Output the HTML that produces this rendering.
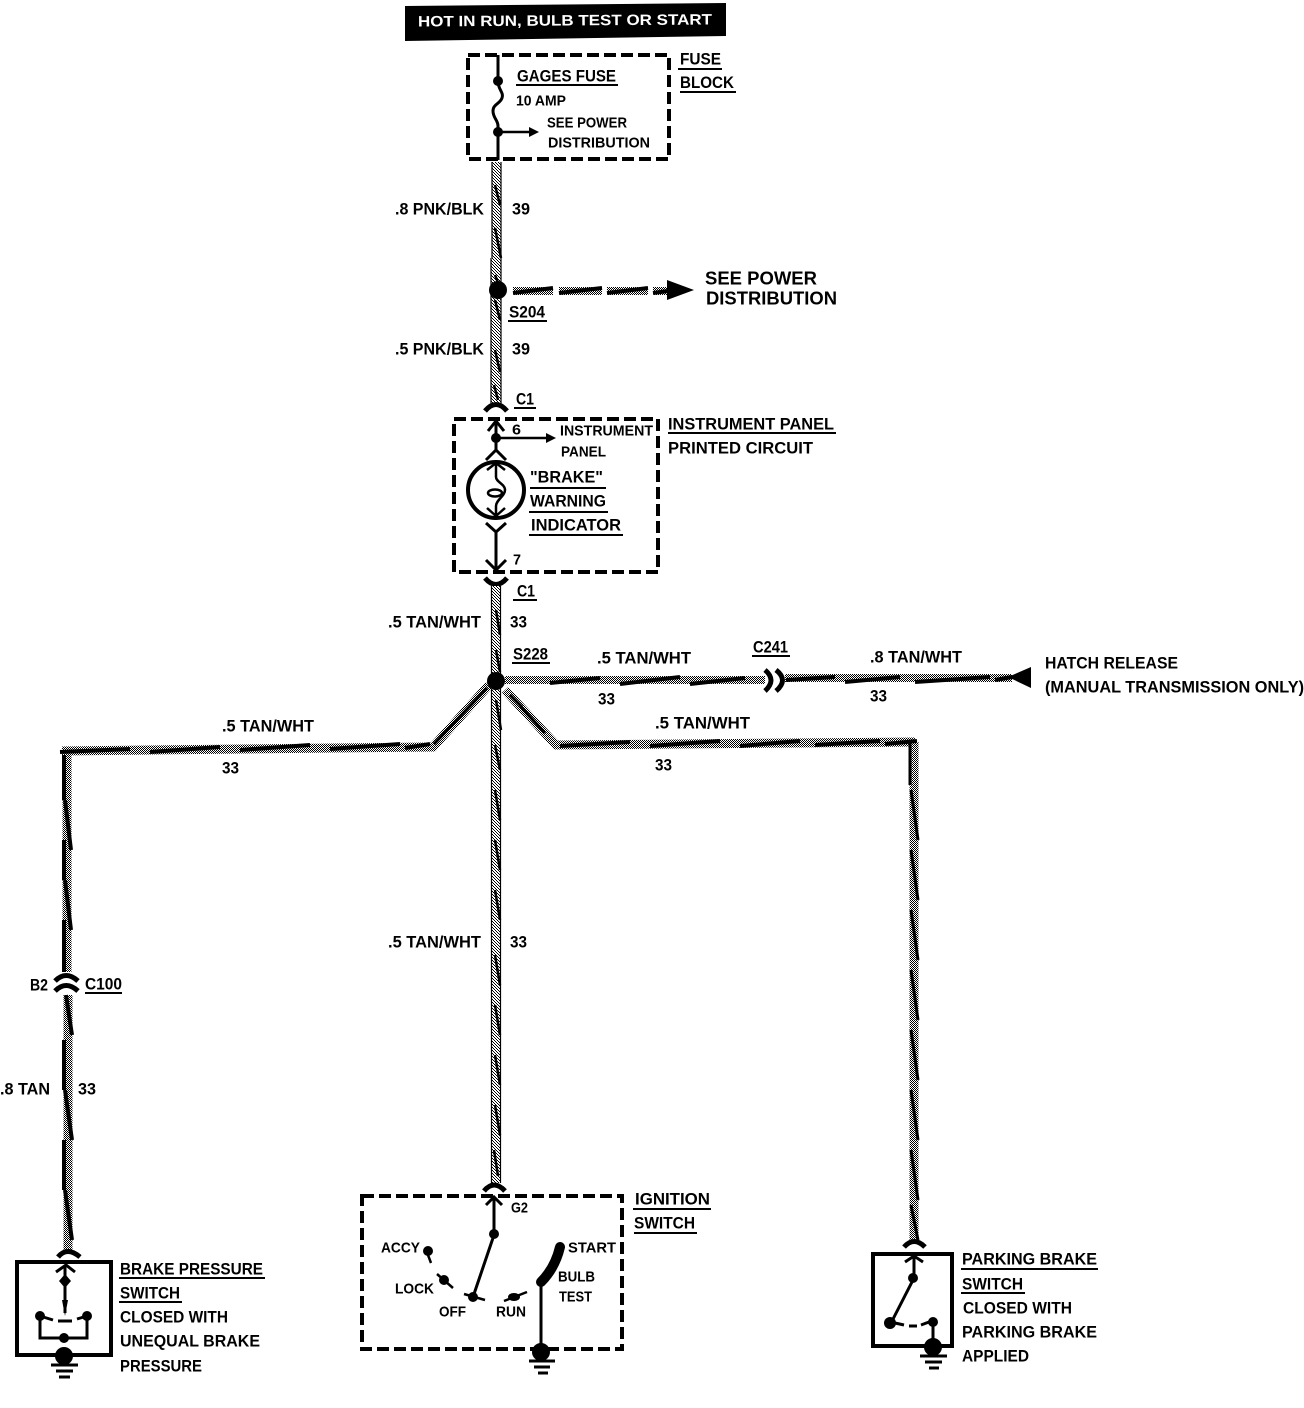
<!DOCTYPE html>
<html><head><meta charset="utf-8"><style>
html,body{margin:0;padding:0;background:#fff}
svg{display:block}
text{font-family:"Liberation Sans",sans-serif;font-weight:bold;fill:#000;font-size:17px}
text:not(.n){transform:translateY(-0.5px)}
.s{font-size:15px}
.u{stroke:#000;stroke-width:2;fill:none}
.l{stroke:#000;stroke-width:2.5;fill:none}
.d{fill:none;stroke:#000;stroke-width:4;stroke-dasharray:12 5}
.w{fill:none;stroke:url(#st);stroke-width:9}
.c{fill:none;stroke:url(#st2);stroke-width:9}
.b{fill:none;stroke:#000;stroke-width:2.5}
.h{fill:none;stroke:#000;stroke-width:4}
.a{fill:none;stroke:#000;stroke-width:5}
</style></head><body>
<svg width="1304" height="1408" viewBox="0 0 1304 1408" xmlns="http://www.w3.org/2000/svg">
<defs>
<pattern id="st" width="2" height="2" patternUnits="userSpaceOnUse"><rect width="2" height="2" fill="#fff"/><rect width="1" height="1" fill="#000"/><rect x="1" y="1" width="1" height="1" fill="#000"/></pattern>
<pattern id="st2" width="3" height="3" patternUnits="userSpaceOnUse"><rect width="3" height="3" fill="#fff"/><rect width="1" height="1" fill="#000"/><rect x="1" y="1" width="1" height="1" fill="#000"/><rect x="2" y="2" width="1" height="1" fill="#000"/></pattern>
</defs>
<rect width="1304" height="1408" fill="#fff"/>

<!-- header -->
<polygon points="405,6 726,3 726,36 405,41" fill="#000"/>
<text class="n" x="418" y="26.5" textLength="294" lengthAdjust="spacingAndGlyphs" style="fill:#fff;font-size:15px" transform="rotate(-0.4 418 27)">HOT IN RUN, BULB TEST OR START</text>

<!-- fuse block -->
<rect class="d" x="468" y="55" width="201" height="104"/>
<path class="l" d="M498,55V81C498,90 504,92 502,98C500,104 493,104 493,111C493,118 498,120 498,126V160" style="stroke-width:3"/>
<circle cx="498" cy="81" r="5"/><circle cx="498" cy="132" r="5"/>
<path class="l" d="M498,132H530"/><polygon points="529,127 539,132 529,137"/>
<text x="517" y="82" textLength="99" lengthAdjust="spacingAndGlyphs">GAGES FUSE</text><path class="u" d="M516,85H618"/>
<text class="s" x="516" y="106" textLength="50" lengthAdjust="spacingAndGlyphs">10 AMP</text>
<text class="s" x="547" y="128" textLength="80" lengthAdjust="spacingAndGlyphs">SEE POWER</text>
<text class="s" x="548" y="148" textLength="102" lengthAdjust="spacingAndGlyphs">DISTRIBUTION</text>
<text x="680" y="65" textLength="41" lengthAdjust="spacingAndGlyphs">FUSE</text><path class="u" d="M678,69H722"/>
<text x="680" y="88.5" textLength="54" lengthAdjust="spacingAndGlyphs">BLOCK</text><path class="u" d="M680,92H736"/>

<!-- top wire -->
<path class="c" d="M496,162V404"/>
<path class="b" d="M491,258V404M501,162V404" style="stroke-width:1.2"/>
<path class="b" d="M492,162V258" style="stroke-width:1.2"/>
<path class="b" d="M495,185L500,205M495,228L501,258M495,275L499,285M495,300L500,320M495,350L500,372M494,385L498,400"/>
<text x="395" y="215" textLength="89" lengthAdjust="spacingAndGlyphs">.8 PNK/BLK</text>
<text x="512" y="215" textLength="18" lengthAdjust="spacingAndGlyphs">39</text>
<circle cx="498" cy="290" r="9"/>
<path d="M513,291H553M559,291H602M607,291H648M653,291H668" fill="none" stroke="url(#st)" stroke-width="8"/>
<path class="h" d="M513,293L553,288M559,293L602,288M607,293L648,288M653,293L668,291"/>
<polygon points="667,280 694,290 667,300"/>
<text x="705" y="285" textLength="112" lengthAdjust="spacingAndGlyphs" style="font-size:18px">SEE POWER</text>
<text x="706" y="305" textLength="131" lengthAdjust="spacingAndGlyphs" style="font-size:18px">DISTRIBUTION</text>
<text x="509" y="318" textLength="36" lengthAdjust="spacingAndGlyphs">S204</text><path class="u" d="M508,321H547"/>
<text x="395" y="355" textLength="89" lengthAdjust="spacingAndGlyphs">.5 PNK/BLK</text>
<text x="512" y="355" textLength="18" lengthAdjust="spacingAndGlyphs">39</text>

<!-- C1 upper -->
<path class="a" d="M485,411Q496,398 507,411"/>
<text x="516" y="405" textLength="18" lengthAdjust="spacingAndGlyphs">C1</text><path class="u" d="M514,408H536"/>

<!-- instrument panel -->
<rect class="d" x="454" y="419" width="204" height="153"/>
<path class="l" d="M488,431L496,421L504,431M496,421V450M486,460L496,450L506,460" style="stroke-width:3"/>
<circle cx="496" cy="438" r="5"/>
<path class="l" d="M496,438H548"/><polygon points="546,433 556,438 546,443"/>
<text class="s" x="512" y="435" textLength="9" lengthAdjust="spacingAndGlyphs">6</text>
<text class="s" x="560" y="436" textLength="93" lengthAdjust="spacingAndGlyphs">INSTRUMENT</text>
<text class="s" x="561" y="457" textLength="45" lengthAdjust="spacingAndGlyphs">PANEL</text>
<circle cx="496" cy="490" r="28" fill="none" stroke="#000" stroke-width="4"/>
<path class="l" d="M487,470L496,463L505,470M496,463V477C496,482 505,484 505,490C505,496 496,500 496,506V516M487,508L496,516L505,508"/>
<ellipse cx="495" cy="493" rx="7" ry="3.5" fill="none" stroke="#000" stroke-width="2.5"/>
<path class="l" d="M486,523L496,532L506,523M496,532V570M486,560L496,570L506,560" style="stroke-width:3"/>
<text class="s" x="513" y="565" textLength="8" lengthAdjust="spacingAndGlyphs">7</text>
<text x="530" y="483" textLength="73" lengthAdjust="spacingAndGlyphs">"BRAKE"</text><path class="u" d="M530,488H606"/>
<text x="530" y="507" textLength="76" lengthAdjust="spacingAndGlyphs">WARNING</text><path class="u" d="M529,512H608"/>
<text x="531" y="531" textLength="90" lengthAdjust="spacingAndGlyphs">INDICATOR</text><path class="u" d="M529,535H623"/>
<text x="668" y="430" textLength="166" lengthAdjust="spacingAndGlyphs">INSTRUMENT PANEL</text><path class="u" d="M668,433H836"/>
<text x="668" y="454" textLength="145" lengthAdjust="spacingAndGlyphs">PRINTED CIRCUIT</text>

<!-- C1 lower -->
<path class="a" d="M485,578Q496,591 507,578"/>
<text x="517" y="597" textLength="18" lengthAdjust="spacingAndGlyphs">C1</text><path class="u" d="M513,600H537"/>

<!-- middle wire -->
<path class="c" d="M496,586V1183"/>
<path class="b" d="M491.5,586V1183M500.5,586V1183" style="stroke-width:1.2"/>
<path class="b" d="M496,610L500,635M496,650L500,672M496,700L501,730M495,745L500,770M495,790L500,820M495,840L500,870M495,890L500,920M495,955L500,985M495,1005L500,1035M495,1055L500,1085M495,1105L500,1135M494,1150L498,1176"/>
<text x="388" y="628" textLength="93" lengthAdjust="spacingAndGlyphs">.5 TAN/WHT</text>
<text x="510" y="628" textLength="17" lengthAdjust="spacingAndGlyphs">33</text>
<text x="513" y="660" textLength="35" lengthAdjust="spacingAndGlyphs">S228</text><path class="u" d="M512,663H550"/>
<text x="388" y="948" textLength="93" lengthAdjust="spacingAndGlyphs">.5 TAN/WHT</text>
<text x="510" y="948" textLength="17" lengthAdjust="spacingAndGlyphs">33</text>

<!-- right hatch wire -->
<path class="w" d="M505,680L765,680M785,678H1012" style="stroke-width:8"/>
<path class="h" d="M550,683L600,678M620,684L680,677M690,684L745,678M786,680L835,677M845,682L900,677M915,682L990,677M995,680L1012,677"/>
<path class="a" d="M765,670Q777,680 765,691M776,670Q789,680 776,691"/>
<polygon points="1031,667 1008,677 1031,688"/>
<text x="597" y="664" textLength="94" lengthAdjust="spacingAndGlyphs">.5 TAN/WHT</text>
<text x="598" y="705" textLength="17" lengthAdjust="spacingAndGlyphs">33</text>
<text x="753" y="653" textLength="35" lengthAdjust="spacingAndGlyphs">C241</text><path class="u" d="M752,656H790"/>
<text x="870" y="663" textLength="92" lengthAdjust="spacingAndGlyphs">.8 TAN/WHT</text>
<text x="870" y="702" textLength="17" lengthAdjust="spacingAndGlyphs">33</text>
<text x="1045" y="669" textLength="133" lengthAdjust="spacingAndGlyphs">HATCH RELEASE</text>
<text x="1045" y="693" textLength="259" lengthAdjust="spacingAndGlyphs">(MANUAL TRANSMISSION ONLY)</text>

<!-- left wire -->
<path class="w" d="M489,685L433,747L62,751"/>
<path class="w" d="M67,752V972M68,995V1252"/>
<path class="h" d="M434,744L487,688" style="stroke-width:3"/>
<path class="h" d="M60,752L130,749M150,752L220,747M240,750L310,745M330,749L400,744M405,748L430,744"/>
<path class="b" d="M64,755V800M65,800L71,850M64,840V880M65,880L71,930M64,920V972M66,995L72,1035M64,1040V1090M65,1090L72,1140M64,1140V1190M65,1190L72,1240" style="stroke-width:4"/>
<path class="a" d="M55,981Q66,970 78,981M55,991Q66,980 78,991"/>
<text x="222" y="732" textLength="92" lengthAdjust="spacingAndGlyphs">.5 TAN/WHT</text>
<text x="222" y="774" textLength="17" lengthAdjust="spacingAndGlyphs">33</text>
<text x="30" y="991" textLength="18" lengthAdjust="spacingAndGlyphs">B2</text>
<text x="85" y="990" textLength="37" lengthAdjust="spacingAndGlyphs">C100</text><path class="u" d="M85,993H122"/>
<text x="0" y="1095" textLength="50" lengthAdjust="spacingAndGlyphs">.8 TAN</text>
<text x="78" y="1095" textLength="18" lengthAdjust="spacingAndGlyphs">33</text>

<!-- right wire -->
<path class="w" d="M505,690L556,745L915,742"/>
<path class="w" d="M914,742V1243"/>
<path class="h" d="M520,706L545,733M510,695L522,707" style="stroke-width:3"/>
<path class="h" d="M560,746L630,742M650,746L720,741M740,746L800,741M815,745L880,741M885,744L917,741"/>
<path class="b" d="M910,742V785M911,790L918,840M911,850L918,900M911,910L918,960M911,970L918,1020M911,1030L918,1080M911,1090L918,1140M911,1150L918,1200M911,1205L918,1240" style="stroke-width:3"/>
<text x="655" y="729" textLength="95" lengthAdjust="spacingAndGlyphs">.5 TAN/WHT</text>
<text x="655" y="771" textLength="17" lengthAdjust="spacingAndGlyphs">33</text>

<!-- splice -->
<circle cx="496" cy="681" r="9"/>

<!-- brake pressure switch -->
<path class="a" d="M58,1257Q67,1246 80,1257"/>
<rect x="17" y="1262" width="94" height="93" fill="none" stroke="#000" stroke-width="4"/>
<path class="l" d="M56,1272L66,1265L75,1272M65,1265V1313" style="stroke-width:3"/>
<polygon points="65,1274 71,1281 65,1288 59,1281"/>
<polygon points="62,1300 68,1300 65,1316"/>
<circle cx="40" cy="1316" r="5"/><circle cx="87" cy="1316" r="5"/>
<path class="l" d="M40,1316V1338H87V1316M40,1316L53,1320M87,1316L77,1319M58,1321H72" style="stroke-width:3"/>
<circle cx="64" cy="1338" r="5"/>
<circle cx="64" cy="1356" r="9"/>
<path class="l" d="M51,1365H78M56,1371H73M59,1377H70" style="stroke-width:3"/>
<text x="120" y="1275" textLength="143" lengthAdjust="spacingAndGlyphs">BRAKE PRESSURE</text><path class="u" d="M119,1278H265"/>
<text x="120" y="1299" textLength="60" lengthAdjust="spacingAndGlyphs">SWITCH</text><path class="u" d="M119,1302H182"/>
<text x="120" y="1323" textLength="108" lengthAdjust="spacingAndGlyphs">CLOSED WITH</text>
<text x="120" y="1347" textLength="140" lengthAdjust="spacingAndGlyphs">UNEQUAL BRAKE</text>
<text x="120" y="1372" textLength="82" lengthAdjust="spacingAndGlyphs">PRESSURE</text>

<!-- ignition switch -->
<path class="a" d="M484,1191Q494,1179 505,1191"/>
<rect class="d" x="362" y="1196" width="260" height="153"/>
<path class="l" d="M486,1205L494,1197L502,1205M494,1197V1235L473,1297" style="stroke-width:3"/>
<circle cx="494" cy="1234" r="5"/><circle cx="473" cy="1297" r="5"/>
<path class="l" d="M464,1294L485,1300"/>
<text class="s" x="511" y="1213" textLength="17" lengthAdjust="spacingAndGlyphs">G2</text>
<circle cx="428" cy="1251" r="5"/><path class="l" d="M428,1255L431,1263"/>
<circle cx="444" cy="1280" r="5"/><path class="l" d="M437,1274L453,1288"/>
<ellipse cx="514" cy="1297" rx="6" ry="4"/><path class="l" d="M504,1301L527,1292"/>
<path d="M560,1247Q555,1268 541,1282" fill="none" stroke="#000" stroke-width="10" stroke-linecap="round"/>
<path class="l" d="M541,1285V1345" style="stroke-width:3"/>
<circle cx="541" cy="1352" r="9"/>
<path class="l" d="M529,1361H555M534,1367H550M538,1373H548" style="stroke-width:3"/>
<text class="s" x="381" y="1253" textLength="39" lengthAdjust="spacingAndGlyphs">ACCY</text>
<text class="s" x="395" y="1294" textLength="39" lengthAdjust="spacingAndGlyphs">LOCK</text>
<text class="s" x="439" y="1317" textLength="27" lengthAdjust="spacingAndGlyphs">OFF</text>
<text class="s" x="496" y="1317" textLength="30" lengthAdjust="spacingAndGlyphs">RUN</text>
<text class="s" x="568" y="1253" textLength="48" lengthAdjust="spacingAndGlyphs">START</text>
<text class="s" x="558" y="1282" textLength="37" lengthAdjust="spacingAndGlyphs">BULB</text>
<text class="s" x="559" y="1302" textLength="33" lengthAdjust="spacingAndGlyphs">TEST</text>
<text x="635" y="1205" textLength="75" lengthAdjust="spacingAndGlyphs">IGNITION</text><path class="u" d="M633,1209H711"/>
<text x="634" y="1229" textLength="61" lengthAdjust="spacingAndGlyphs">SWITCH</text><path class="u" d="M634,1233H697"/>

<!-- parking brake switch -->
<path class="a" d="M904,1247Q914,1236 925,1247"/>
<rect x="873" y="1254" width="79" height="92" fill="none" stroke="#000" stroke-width="4"/>
<path class="l" d="M905,1262L914,1256L923,1262M914,1256V1278L891,1323" style="stroke-width:3"/>
<circle cx="913" cy="1278" r="5"/><circle cx="890" cy="1323" r="6"/>
<path class="l" d="M895,1323L904,1325M909,1326H917M921,1325L929,1322M933,1322V1340" style="stroke-width:3"/>
<circle cx="933" cy="1322" r="5"/>
<circle cx="933" cy="1347" r="9"/>
<path class="l" d="M920,1356H947M925,1362H942M929,1368H939" style="stroke-width:3"/>
<text x="962" y="1265" textLength="135" lengthAdjust="spacingAndGlyphs">PARKING BRAKE</text><path class="u" d="M961,1269H1098"/>
<text x="962" y="1290" textLength="61" lengthAdjust="spacingAndGlyphs">SWITCH</text><path class="u" d="M961,1293H1025"/>
<text x="963" y="1314" textLength="109" lengthAdjust="spacingAndGlyphs">CLOSED WITH</text>
<text x="962" y="1338" textLength="135" lengthAdjust="spacingAndGlyphs">PARKING BRAKE</text>
<text x="962" y="1362" textLength="67" lengthAdjust="spacingAndGlyphs">APPLIED</text>
</svg>
</body></html>
